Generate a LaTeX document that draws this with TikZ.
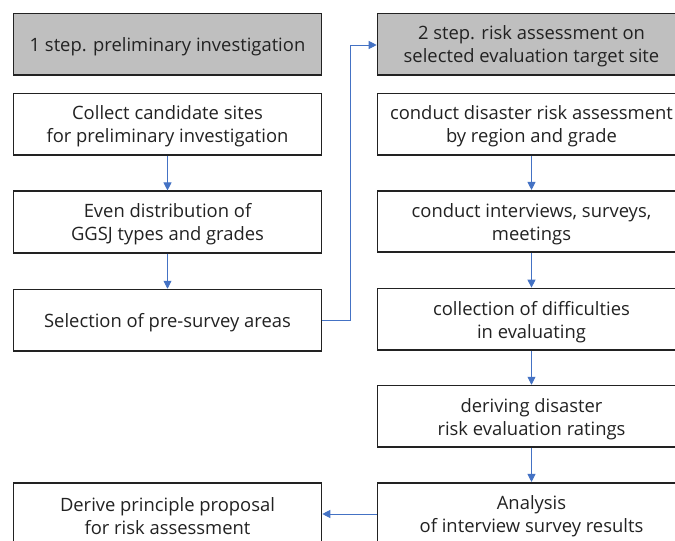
\documentclass[tikz,border=0pt]{standalone}
\usepackage{fontspec}
\setmainfont{Open Sans}
\usetikzlibrary{arrows.meta}
\definecolor{boxgray}{HTML}{BFBFBF}
\definecolor{edge}{HTML}{4472C4}
\definecolor{ink}{HTML}{222222}
\begin{document}
\begin{tikzpicture}[x=1pt,y=-1pt,
  box/.style={draw=ink,line width=1.6pt,minimum width=308pt,minimum height=61.5pt,
    inner sep=0pt,fill=white},
  headbox/.style={box,fill=boxgray},
  txt/.style={align=center,inner sep=0pt,text=ink,font=\fontsize{18.4}{23}\selectfont},
  conn/.style={draw=edge,line width=0.9pt,-{Triangle[length=8pt,width=8pt]}}]
\clip (0,0) rectangle (675,541);
\fill[white] (0,0) rectangle (675,541);
\node[headbox] (L1) at (167.5,44.2) {};
\node[box] (L2) at (167.5,124.2) {};
\node[box] (L3) at (167.5,222) {};
\node[box] (L4) at (167.5,320.3) {};
\node[box] (L6) at (167.5,513.5) {};
\node[headbox] (R1) at (531.5,44.2) {};
\node[box] (R2) at (531.5,124.2) {};
\node[box] (R3) at (531.5,221.5) {};
\node[box] (R4) at (531.5,319.2) {};
\node[box] (R5) at (531.5,416.3) {};
\node[box] (R6) at (531.5,513.5) {};
\node[txt] (tL1) at ([yshift=-2.5pt]L1.center) {1 step. preliminary investigation};
\node[txt] (tL2) at ([yshift=-2.5pt]L2.center) {Collect candidate sites\\for preliminary investigation};
\node[txt] (tL3) at ([yshift=-2.5pt]L3.center) {Even distribution of\\GGSJ types and grades};
\node[txt] (tL4) at ([yshift=-2.5pt]L4.center) {Selection of pre-survey areas};
\node[txt] (tL6) at ([yshift=-2.5pt]L6.center) {Derive principle proposal\\for risk assessment};
\node[txt] (tR1) at ([yshift=-2.5pt]R1.center) {2 step. risk assessment on\\selected evaluation target site};
\node[txt] (tR2) at ([yshift=-2.5pt]R2.center) {conduct disaster risk assessment\\by region and grade};
\node[txt] (tR3) at ([yshift=-2.5pt]R3.center) {conduct interviews, surveys,\\meetings};
\node[txt] (tR4) at ([yshift=-2.5pt]R4.center) {collection of difficulties\\in evaluating};
\node[txt] (tR5) at ([yshift=-2.5pt]R5.center) {deriving disaster\\risk evaluation ratings};
\node[txt] (tR6) at ([yshift=-2.5pt]R6.center) {Analysis\\of interview survey results};
\coordinate (e1) at (350,320.3);
\coordinate (e2) at (350,45);
\draw[conn] (L2) -- (L3);
\draw[conn] (L3) -- (L4);
\draw[conn] (L4.east) -- (e1) -- (e2) -- (R1.west |- e2);
\draw[conn] (R2) -- (R3);
\draw[conn] (R3) -- (R4);
\draw[conn] (R4) -- (R5);
\draw[conn] (R5) -- (R6);
\draw[conn] (R6.west |- 0,514) -- (L6.east |- 0,514);
\end{tikzpicture}
\end{document}
